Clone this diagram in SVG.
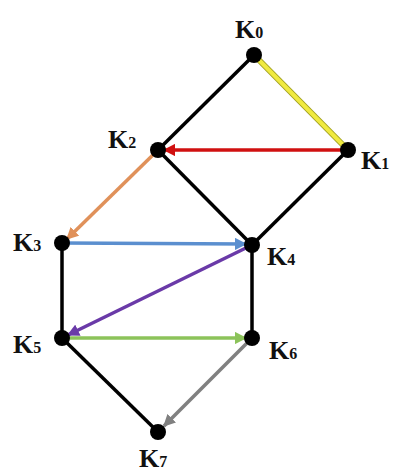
<svg xmlns="http://www.w3.org/2000/svg" width="397" height="472" viewBox="0 0 397 472">
<defs>
<style>
.e{stroke:#000;stroke-width:3.5;fill:none}
.c{stroke-width:3.5;fill:none}
.n{fill:#000}
.l{font-family:"Liberation Serif",serif;font-weight:bold;font-size:26px;fill:#111}
.s{font-size:16px}
</style>
<marker id="r" viewBox="0 0 10 10" refX="9" refY="5" markerWidth="3.5" markerHeight="3.5" orient="auto" markerUnits="strokeWidth"><path d="M0,0 L10,5 L0,10 z" fill="#d01010"/></marker>
<marker id="o" viewBox="0 0 10 10" refX="9" refY="5" markerWidth="3.5" markerHeight="3.5" orient="auto" markerUnits="strokeWidth"><path d="M0,0 L10,5 L0,10 z" fill="#e0915a"/></marker>
<marker id="b" viewBox="0 0 10 10" refX="9" refY="5" markerWidth="3.5" markerHeight="3.5" orient="auto" markerUnits="strokeWidth"><path d="M0,0 L10,5 L0,10 z" fill="#5b8fcf"/></marker>
<marker id="p" viewBox="0 0 10 10" refX="9" refY="5" markerWidth="3.5" markerHeight="3.5" orient="auto" markerUnits="strokeWidth"><path d="M0,0 L10,5 L0,10 z" fill="#6a3aa8"/></marker>
<marker id="g" viewBox="0 0 10 10" refX="9" refY="5" markerWidth="3.5" markerHeight="3.5" orient="auto" markerUnits="strokeWidth"><path d="M0,0 L10,5 L0,10 z" fill="#8cc35a"/></marker>
<marker id="gr" viewBox="0 0 10 10" refX="9" refY="5" markerWidth="3.5" markerHeight="3.5" orient="auto" markerUnits="strokeWidth"><path d="M0,0 L10,5 L0,10 z" fill="#808080"/></marker>
</defs>
<rect width="397" height="472" fill="#fff"/>
<g id="connectors">
<line class="e" x1="254" y1="55" x2="158" y2="150"/>
<line class="e" x1="348" y1="150" x2="252" y2="245"/>
<line class="e" x1="158" y1="150" x2="252" y2="245"/>
<line class="e" x1="62" y1="243" x2="62" y2="338"/>
<line class="e" x1="252" y1="245" x2="252" y2="338"/>
<line class="e" x1="62" y1="338" x2="158" y2="432"/>
<line stroke="#a0a020" stroke-width="6" x1="254" y1="55" x2="346" y2="148"/>
<line stroke="#f0ea40" stroke-width="4" x1="254" y1="55" x2="346" y2="148"/>
<line class="c" stroke="#d01010" x1="348" y1="150" x2="164" y2="150" marker-end="url(#r)"/>
<line class="c" stroke="#e0915a" x1="158" y1="150" x2="67" y2="239" marker-end="url(#o)"/>
<line class="c" stroke="#5b8fcf" x1="62" y1="243" x2="246" y2="244" marker-end="url(#b)"/>
<line class="c" stroke="#6a3aa8" x1="252" y1="245" x2="68" y2="335" marker-end="url(#p)"/>
<line class="c" stroke="#8cc35a" x1="62" y1="338" x2="246" y2="338" marker-end="url(#g)"/>
<line class="c" stroke="#808080" x1="252" y1="338" x2="164" y2="426" marker-end="url(#gr)"/>
</g>
<g id="K0"><circle class="n" cx="254" cy="55" r="8"/><text class="l" x="235" y="38">K<tspan class="s">0</tspan></text></g>
<g id="K1"><circle class="n" cx="348" cy="150" r="8"/><text class="l" x="361" y="169">K<tspan class="s">1</tspan></text></g>
<g id="K2"><circle class="n" cx="158" cy="150" r="8"/><text class="l" x="108" y="148">K<tspan class="s">2</tspan></text></g>
<g id="K3"><circle class="n" cx="62" cy="243" r="8"/><text class="l" x="13" y="251">K<tspan class="s">3</tspan></text></g>
<g id="K4"><circle class="n" cx="252" cy="245" r="8"/><text class="l" x="267" y="265">K<tspan class="s">4</tspan></text></g>
<g id="K5"><circle class="n" cx="62" cy="338" r="8"/><text class="l" x="13" y="353">K<tspan class="s">5</tspan></text></g>
<g id="K6"><circle class="n" cx="252" cy="338" r="8"/><text class="l" x="269" y="359">K<tspan class="s">6</tspan></text></g>
<g id="K7"><circle class="n" cx="158" cy="432" r="8"/><text class="l" x="139" y="467">K<tspan class="s">7</tspan></text></g>
</svg>
